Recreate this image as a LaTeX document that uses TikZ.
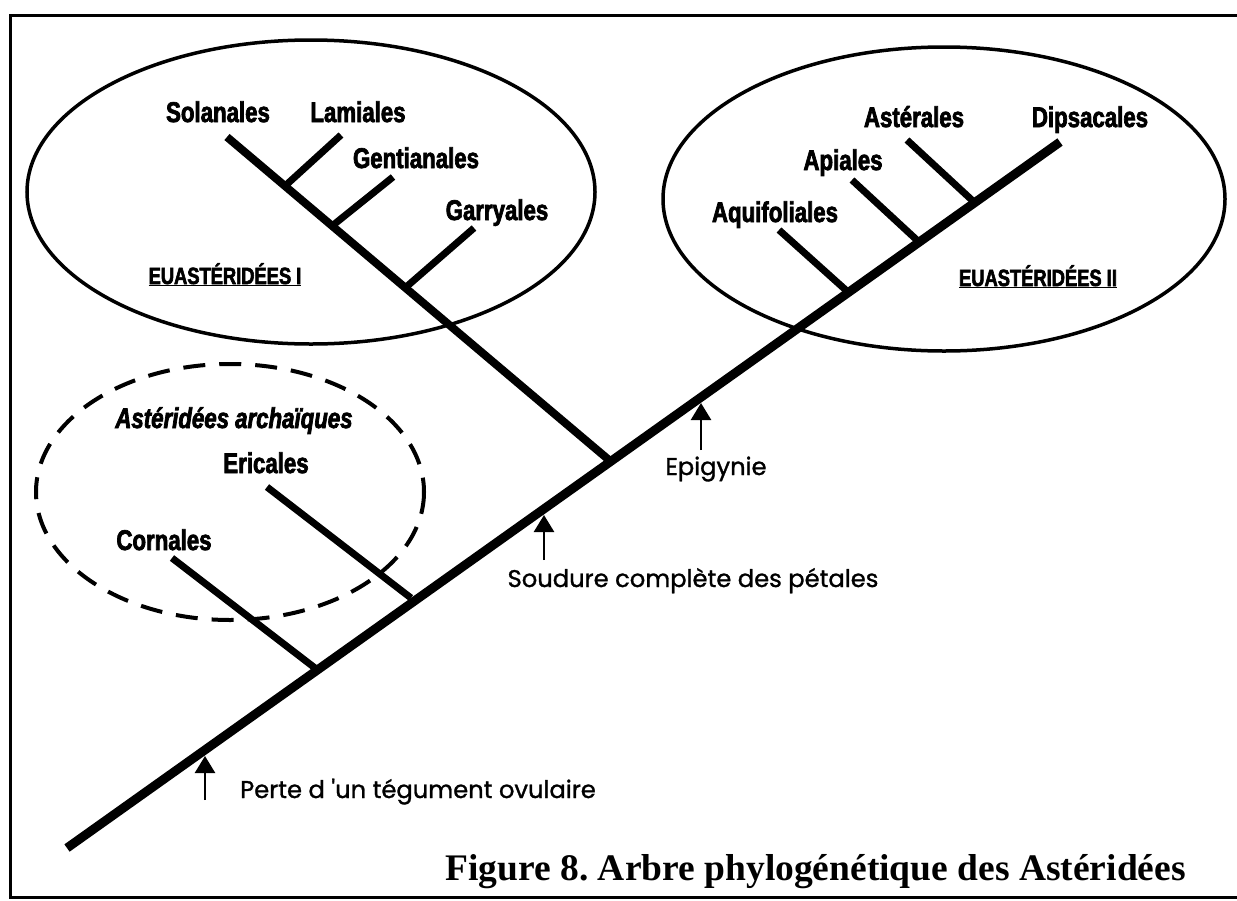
\documentclass[tikz,border=0pt]{standalone}
\usepackage{fontspec}
\usetikzlibrary{arrows.meta}
\frenchspacing
\newfontfamily\labfont[FakeStretch=0.78,BoldFeatures={FakeBold=2.5},BoldItalicFeatures={FakeBold=2.5}]{Liberation Sans}
\newfontfamily\grpfont[FakeStretch=0.78,BoldFeatures={FakeBold=2.5}]{Liberation Sans}
\newfontfamily\annotfont[FakeBold=1.2]{Poppins}
\newfontfamily\capfont{Liberation Serif}
\tikzset{
  trunkline/.style={line width=9pt},
  branchline/.style={line width=7pt},
  ell/.style={line width=3.5pt},
  dashell/.style={line width=4pt, dash pattern=on 22pt off 14pt},
  lab/.style={anchor=base, inner sep=0pt, font=\labfont\bfseries\fontsize{28.5}{30}\selectfont},
  grp/.style={anchor=base, inner sep=0pt, font=\grpfont\bfseries\fontsize{23.5}{26}\selectfont},
  annot/.style={anchor=base, inner sep=0pt, font=\annotfont\fontsize{24.2}{27}\selectfont},
  evt/.style={line width=2.5pt, -{Triangle[width=20pt,length=17pt]}},
}
\begin{document}
\begin{tikzpicture}[x=1pt,y=-1pt]
\useasboundingbox (0,0) rectangle (1237,900);
% frame
\draw[line width=3pt] (1237,15) -- (10,15) -- (10,897) -- (1237,897);
% ellipses
\draw[ell] (311,192) ellipse [x radius=284, y radius=152];
\draw[ell] (944,199) ellipse [x radius=281, y radius=152];
\draw[dashell] (230,492) ellipse [x radius=194, y radius=128];
% tree coordinates
\coordinate (root) at (67,848);
\coordinate (top) at (1060,142);
\coordinate (jCor) at (315,668);
\coordinate (tCor) at (172,558);
\coordinate (jEri) at (411,598);
\coordinate (tEri) at (267,487);
\coordinate (jSol) at (609,460);
\coordinate (tSol) at (227,137);
\coordinate (jLam) at (285,186);
\coordinate (tLam) at (341,135);
\coordinate (jGen) at (332,226);
\coordinate (tGen) at (393,177);
\coordinate (jGar) at (405,288);
\coordinate (tGar) at (474,228);
\coordinate (jAqu) at (848,292);
\coordinate (tAqu) at (779,230);
\coordinate (jApi) at (919,242);
\coordinate (tApi) at (852,180);
\coordinate (jAst) at (974,202);
\coordinate (tAst) at (907,140);
% trunk and branches
\draw[trunkline] (root) -- (top);
\draw[branchline] (tCor) -- (jCor);
\draw[branchline] (tEri) -- (jEri);
\draw[trunkline, line width=8pt] (tSol) -- (jSol);
\draw[branchline] (tLam) -- (jLam);
\draw[branchline] (tGen) -- (jGen);
\draw[branchline] (tGar) -- (jGar);
\draw[branchline] (tAqu) -- (jAqu);
\draw[branchline] (tApi) -- (jApi);
\draw[branchline] (tAst) -- (jAst);
% labels
\node[lab] (Sol) at (218,122) {Solanales};
\node[lab] (Lam) at (358,122) {Lamiales};
\node[lab] (Gen) at (416,168) {Gentianales};
\node[lab] (Gar) at (497,220) {Garryales};
\node[grp] (EU1) at (225,284) {\underline{EUASTÉRIDÉES I}};
\node[lab] (Aste) at (914,127) {Astérales};
\node[lab] (Dip) at (1090,127) {Dipsacales};
\node[lab] (Api) at (843,170) {Apiales};
\node[lab] (Aqu) at (775,222) {Aquifoliales};
\node[grp] (EU2) at (1038,286) {\underline{EUASTÉRIDÉES II}};
\node[lab, font=\labfont\bfseries\itshape\fontsize{28.5}{30}\selectfont] (Arch) at (234,428) {Astéridées archaïques};
\node[lab] (Eri) at (266,473) {Ericales};
\node[lab] (Cor) at (164,550) {Cornales};
% events
\coordinate (ePerteB) at (205,800);
\coordinate (ePerteT) at (205,756);
\coordinate (eSoudB) at (544,560);
\coordinate (eSoudT) at (544,515);
\coordinate (eEpiB) at (701,450);
\coordinate (eEpiT) at (701,403);
\draw[evt] (ePerteB) -- (ePerteT);
\draw[evt] (eSoudB) -- (eSoudT);
\draw[evt] (eEpiB) -- (eEpiT);
\node[annot, anchor=base west] (Perte) at (240,798) {Perte d 'un tégument ovulaire};
\node[annot] (Soud) at (693,587) {Soudure complète des pétales};
\node[annot] (Epi) at (716,475) {Epigynie};
% caption
\node[anchor=base east, inner sep=0pt, font=\capfont\bfseries\fontsize{37.5}{42}\selectfont] (cap) at (1186,880) {Figure 8. Arbre phylogénétique des Astéridées};
\end{tikzpicture}
\end{document}
